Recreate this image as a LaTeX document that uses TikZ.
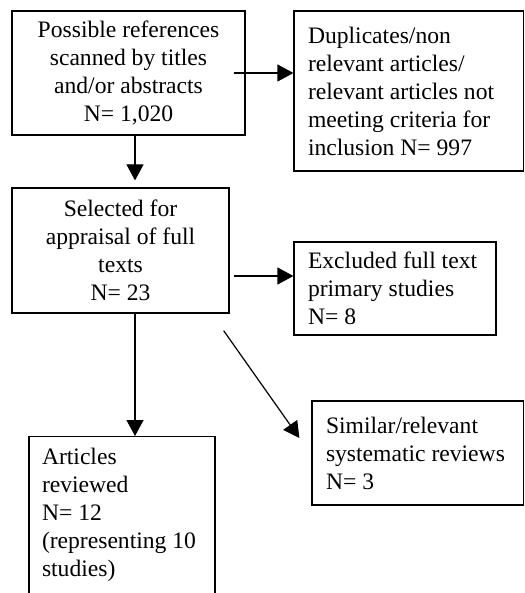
\documentclass[tikz,border=0pt]{standalone}
\usepackage{fontspec}
\setmainfont{Liberation Serif}
\usetikzlibrary{arrows.meta}
\begin{document}
\begin{tikzpicture}[x=0.5pt,y=-0.5pt,
    box/.style={draw,line width=0.6pt,inner xsep=7pt,inner ysep=3pt,font=\fontsize{11.8}{14}\selectfont},
    arr/.style={line width=0.6pt,-{Triangle[length=8pt,width=8.5pt]}}]
  \useasboundingbox (0,0) rectangle (524,593);
  % boxes
  \node[box,align=flush center,text width=102.5pt,minimum height=62pt] (poss) at (128.5,73)
    {Possible references\\scanned by titles\\and/or abstracts\\N= 1,020};
  \node[box,align=flush left,text width=100.75pt,minimum height=80pt] (dup) at (408.75,91)
    {Duplicates/non\\relevant articles/\\relevant articles not\\meeting criteria for\\inclusion N= 997};
  \node[box,align=flush center,text width=94.5pt,minimum height=62.5pt] (sel) at (120.5,250.5)
    {Selected for\\appraisal of full\\texts\\N= 23};
  \node[box,align=flush left,text width=87pt,minimum height=46.5pt] (excl) at (395,288.5)
    {Excluded full text\\primary studies\\N= 8};
  \node[box,align=flush left,text width=80pt,inner xsep=6.5pt,inner ysep=6pt,anchor=north] (art) at (122,436)
    {Articles\\reviewed\\N= 12\\(representing 10\\studies)};
  \node[box,align=flush left,text width=91.75pt,minimum height=52pt] (sim) at (417.75,453)
    {Similar/relevant\\systematic reviews\\N= 3};
  % connectors
  \draw[arr] ([xshift=-6pt]poss.east) -- (poss.east -| dup.west);
  \draw[arr,shorten >=3.5pt] ([xshift=3.25pt]poss.south) -- ([xshift=3.25pt]poss.south |- sel.north);
  \coordinate (ex) at ([yshift=6.25pt]excl.west);
  \draw[arr] ([xshift=2pt]sel.east |- ex) -- (ex);
  \draw[arr] ([xshift=7.25pt]sel.south) -- ([xshift=7.25pt]sel.south |- art.north);
  \draw[arr] ([xshift=-3pt,yshift=-8.5pt]sel.south east) -- ([xshift=-6pt,yshift=7.5pt]sim.west);
\end{tikzpicture}
\end{document}
